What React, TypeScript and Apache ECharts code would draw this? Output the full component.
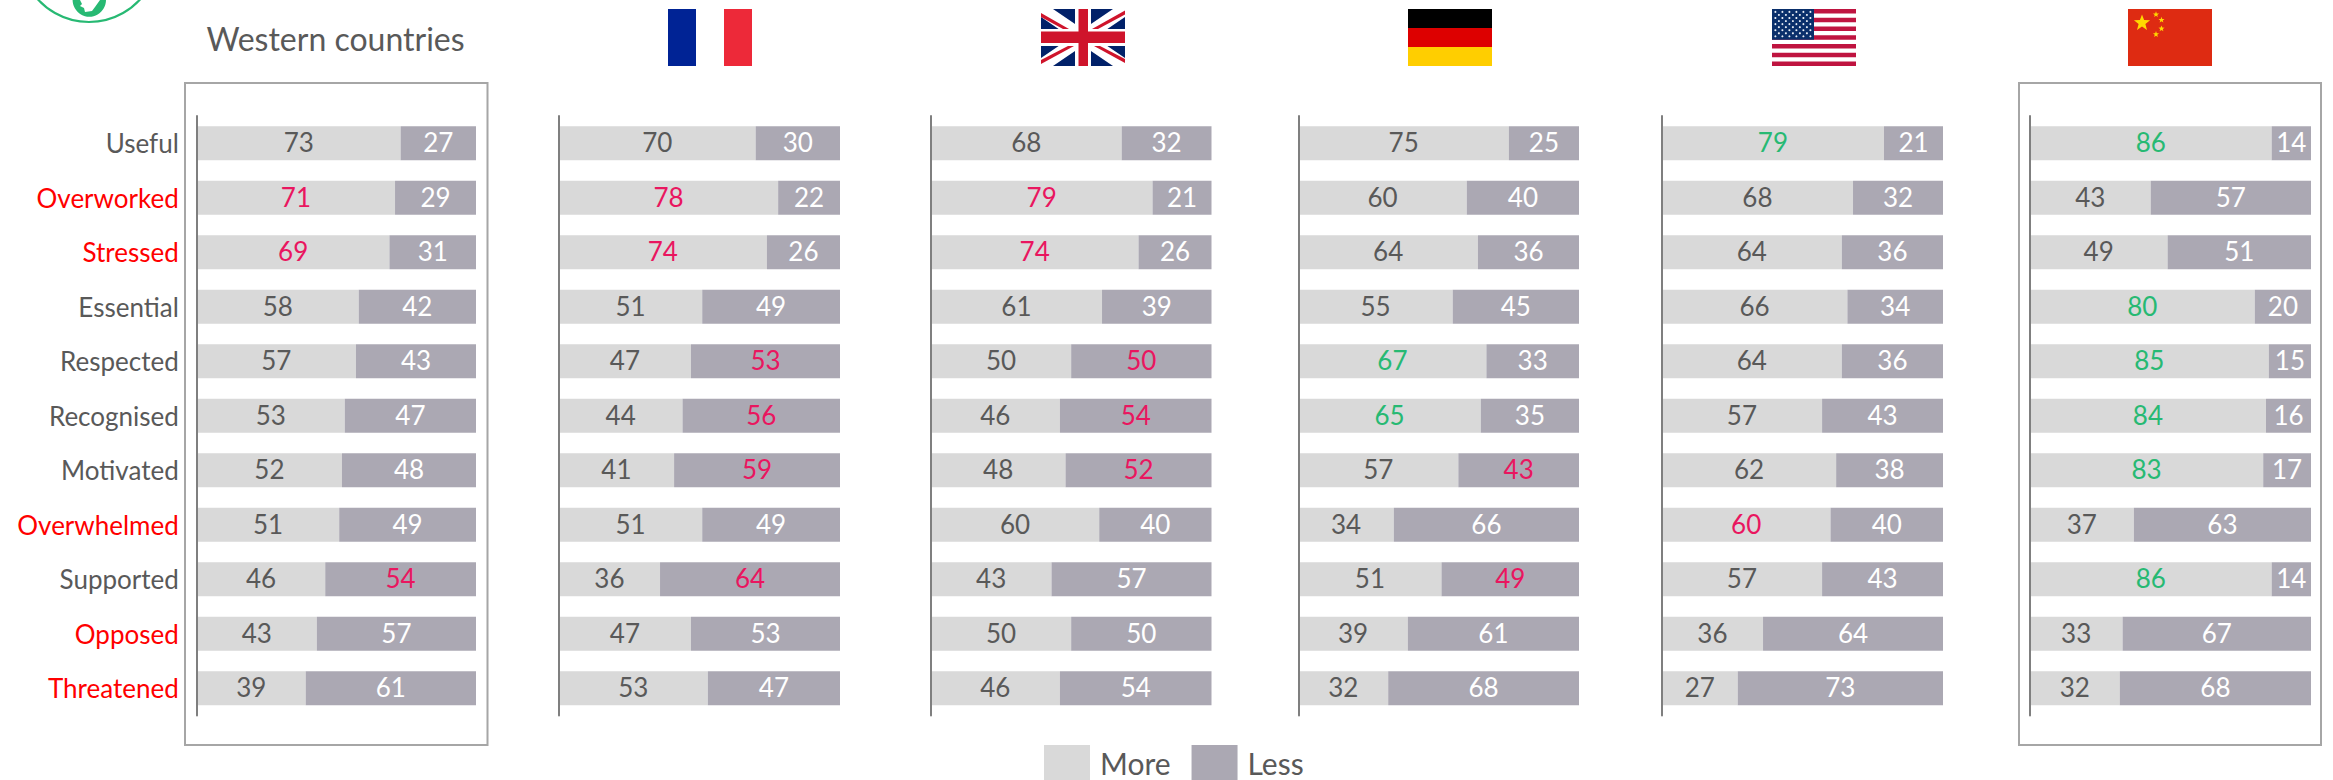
import React, { useEffect, useRef } from "react";
import * as echarts from "echarts";

const categories = ["Useful", "Overworked", "Stressed", "Essential", "Respected", "Recognised", "Motivated", "Overwhelmed", "Supported", "Opposed", "Threatened"];
const redCategories = ["Overworked", "Stressed", "Overwhelmed", "Opposed", "Threatened"];

const westernMore = [73, 71, 69, 58, 57, 53, 52, 51, 46, 43, 39];
const westernLess = [27, 29, 31, 42, 43, 47, 48, 49, 54, 57, 61];
const franceMore = [70, 78, 74, 51, 47, 44, 41, 51, 36, 47, 53];
const franceLess = [30, 22, 26, 49, 53, 56, 59, 49, 64, 53, 47];
const ukMore = [68, 79, 74, 61, 50, 46, 48, 60, 43, 50, 46];
const ukLess = [32, 21, 26, 39, 50, 54, 52, 40, 57, 50, 54];
const germanyMore = [75, 60, 64, 55, 67, 65, 57, 34, 51, 39, 32];
const germanyLess = [25, 40, 36, 45, 33, 35, 43, 66, 49, 61, 68];
const usMore = [79, 68, 64, 66, 64, 57, 62, 60, 57, 36, 27];
const usLess = [21, 32, 36, 34, 36, 43, 38, 40, 43, 64, 73];
const chinaMore = [86, 43, 49, 80, 85, 84, 83, 37, 86, 33, 32];
const chinaLess = [14, 57, 51, 20, 15, 16, 17, 63, 14, 67, 68];

const PINK = "#e9165f";
const GREEN = "#27b973";
const DARK = "#595959";
const BAR_MORE = "#d9d9d9";
const BAR_LESS = "#aba8b3";
const NUM_FONT = "Lato, sans-serif";
const TXT_FONT = "Lato, 'Open Sans', sans-serif";

const panels = [
  { left: 196.8, width: 279.2, more: westernMore, less: westernLess, morePink: [1, 2], lessPink: [8], moreGreen: [] as number[] },
  { left: 558.8, width: 281.2, more: franceMore, less: franceLess, morePink: [1, 2], lessPink: [4, 5, 6, 8], moreGreen: [] as number[] },
  { left: 930.8, width: 280.7, more: ukMore, less: ukLess, morePink: [1, 2], lessPink: [4, 5, 6], moreGreen: [] as number[] },
  { left: 1298.4, width: 280.6, more: germanyMore, less: germanyLess, morePink: [] as number[], lessPink: [6, 8], moreGreen: [4, 5] },
  { left: 1661.8, width: 281.2, more: usMore, less: usLess, morePink: [7], lessPink: [] as number[], moreGreen: [0] },
  { left: 2029.8, width: 281.2, more: chinaMore, less: chinaLess, morePink: [] as number[], lessPink: [] as number[], moreGreen: [0, 3, 4, 5, 6, 8] },
];

const rect = (x: number, y: number, width: number, height: number, fill: string) => ({
  type: "rect", silent: true, shape: { x, y, width, height }, style: { fill },
});
const poly = (ox: number, oy: number, pts: number[][], fill: string) => ({
  type: "polygon", silent: true, shape: { points: pts.map(([a, b]) => [ox + a, oy + b]) }, style: { fill },
});
const star = (cx: number, cy: number, r: number, fill: string) => {
  const pts: number[][] = [];
  for (let i = 0; i < 10; i++) {
    const rad = i % 2 ? r * 0.42 : r;
    const ang = -Math.PI / 2 + (i * Math.PI) / 5;
    pts.push([cx + rad * Math.cos(ang), cy + rad * Math.sin(ang)]);
  }
  return poly(0, 0, pts, fill);
};

function flags() {
  const y = 9;
  const h = 57;
  const w = 84;
  const out: any[] = [];
  // France
  out.push(rect(668, y, 28, h, "#002395"), rect(724, y, 28, h, "#ed2939"));
  // UK
  const ux = 1041;
  const red = "#cf142b";
  out.push(rect(ux, y, w, h, "#012169"));
  out.push(poly(ux, y, [[0, 0], [12, 0], [84, 49], [84, 57], [72, 57], [0, 8]], "#ffffff"));
  out.push(poly(ux, y, [[84, 0], [72, 0], [0, 49], [0, 57], [12, 57], [84, 8]], "#ffffff"));
  out.push(poly(ux, y, [[0, 4], [0, 8], [22, 20], [28, 20]], red));
  out.push(poly(ux, y, [[84, 1.5], [84, 5.5], [57, 20], [51, 20]], red));
  out.push(poly(ux, y, [[0, 51], [0, 55], [33, 37], [27, 37]], red));
  out.push(poly(ux, y, [[53, 37], [59, 37], [84, 50], [84, 54]], red));
  out.push(rect(ux + 34, y, 16, h, "#ffffff"), rect(ux, y + 20, w, 17, "#ffffff"));
  out.push(rect(ux + 37.5, y, 9.5, h, red), rect(ux, y + 22.5, w, 11.5, red));
  // Germany
  out.push(rect(1408, y, w, 19, "#000000"), rect(1408, y + 19, w, 19, "#dd0000"), rect(1408, y + 38, w, 19, "#ffce00"));
  // USA
  const sx = 1772;
  const sh = h / 13;
  out.push(rect(sx, y, w, h, "#ffffff"));
  for (let i = 0; i < 13; i += 2) out.push(rect(sx, y + i * sh, w, sh, "#bf1440"));
  out.push(rect(sx, y, 42, sh * 7, "#0a2f6b"));
  for (let row = 0; row < 9; row++) {
    const n = row % 2 ? 5 : 6;
    for (let c = 0; c < n; c++) {
      out.push({
        type: "circle", silent: true,
        shape: { cx: sx + (row % 2 ? 6.9 : 3.4) + c * 7, cy: y + 2.9 + row * 3.05, r: 1.05 },
        style: { fill: "#e8edf5" },
      });
    }
  }
  // China
  out.push(rect(2128, y, w, h, "#de2b12"));
  out.push(star(2142, 23, 8.5, "#ffd800"));
  [[2156, 14.5], [2161.5, 20], [2161.5, 28.7], [2156, 34.3]].forEach(([a, b]) => out.push(star(a, b, 3.2, "#ffd800")));
  return out;
}

function logo() {
  return [
    {
      type: "arc", silent: true,
      shape: { cx: 89, cy: -47, r: 69, startAngle: 0.6, endAngle: Math.PI - 0.6 },
      style: { stroke: GREEN, lineWidth: 2.2, fill: "none" },
    },
    { type: "circle", silent: true, shape: { cx: 89.3, cy: 0, r: 16.7 }, style: { fill: GREEN } },
    poly(0, 0, [[80, 0], [82, 4], [80, 6], [84, 8], [85, 12], [92, 11], [95, 7], [100, 0]], "#ffffff"),
  ];
}

function buildOption() {
  const grid: any[] = [];
  const xAxis: any[] = [];
  const yAxis: any[] = [];
  const series: any[] = [];
  panels.forEach((p, i) => {
    grid.push({ left: p.left, width: p.width, top: 116, height: 599.5, containLabel: false });
    xAxis.push({ gridIndex: i, type: "value", min: 0, max: 100, show: false });
    yAxis.push({
      gridIndex: i,
      type: "category",
      inverse: true,
      z: 5,
      data: categories,
      axisTick: { show: false },
      axisLine: { show: true, lineStyle: { color: "#7f7f7f", width: 2 } },
      splitLine: { show: false },
      axisLabel: {
        show: i === 0,
        margin: 18,
        fontFamily: TXT_FONT,
        fontSize: 26,
        interval: 0,
        padding: [0, 0, 2, 0],
        color: (v: string) => (redCategories.includes(v) ? "#ff0000" : DARK),
      },
    });
    const label = (color: string) => ({
      show: true, position: "inside", offset: [0, -1], color, fontFamily: NUM_FONT, fontSize: 26,
    });
    series.push({
      type: "bar", name: "More", stack: `s${i}`, xAxisIndex: i, yAxisIndex: i, barWidth: 34,
      itemStyle: { color: BAR_MORE },
      label: label(DARK),
      data: p.more.map((v, k) => ({
        value: v,
        label: { color: p.morePink.includes(k) ? PINK : p.moreGreen.includes(k) ? GREEN : DARK },
      })),
    });
    series.push({
      type: "bar", name: "Less", stack: `s${i}`, xAxisIndex: i, yAxisIndex: i, barWidth: 34,
      itemStyle: { color: BAR_LESS },
      label: label("#ffffff"),
      data: p.less.map((v, k) => ({
        value: v,
        label: { color: p.lessPink.includes(k) ? PINK : "#ffffff" },
      })),
    });
  });
  return {
    animation: false,
    backgroundColor: "#ffffff",
    legend: {
      data: ["More", "Less"],
      left: 1044,
      top: 745,
      padding: 0,
      itemWidth: 46,
      itemHeight: 35,
      itemGap: 21,
      icon: "rect",
      selectedMode: false,
      textStyle: { fontFamily: TXT_FONT, fontSize: 30, color: DARK, padding: [6, 0, 0, 5] },
    },
    grid,
    xAxis,
    yAxis,
    series,
    graphic: {
      elements: [
        {
          type: "rect", silent: true, z: -10,
          shape: { x: 185, y: 83, width: 302.5, height: 662 },
          style: { fill: "none", stroke: "#a6a6a6", lineWidth: 2 },
        },
        {
          type: "rect", silent: true, z: -10,
          shape: { x: 2019, y: 83, width: 302, height: 662 },
          style: { fill: "none", stroke: "#a6a6a6", lineWidth: 2 },
        },
        {
          type: "text", silent: true, x: 335.5, y: 38,
          style: {
            text: "Western countries", fill: DARK, font: `32px ${TXT_FONT}`,
            textAlign: "center", textVerticalAlign: "middle",
          },
        },
        ...flags(),
        ...logo(),
      ],
    },
  };
}

export default function App() {
  const ref = useRef<HTMLDivElement>(null);
  useEffect(() => {
    document.body.style.margin = "0";
    const chart = echarts.init(ref.current!, undefined, { renderer: "svg" });
    chart.setOption(buildOption() as any);
    return () => chart.dispose();
  }, []);
  return <div ref={ref} style={{ width: 2333, height: 780 }} />;
}
